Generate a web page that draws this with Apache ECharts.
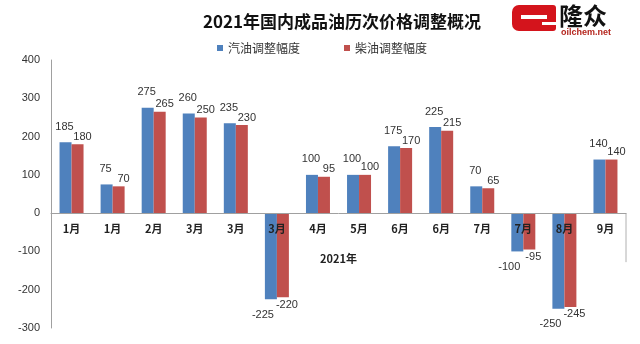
<!DOCTYPE html>
<html>
<head>
<meta charset="utf-8">
<script src="https://cdn.jsdelivr.net/npm/echarts@6/dist/echarts.min.js"></script>
<style>
  html, body { margin: 0; padding: 0; background: #ffffff; }
  #chart { width: 640px; height: 344px; }
</style>
</head>
<body>
<div id="chart"></div>
<script>
// Adjustment rounds of 2021 (month of each round)
const categories = ['1月', '1月', '2月', '3月', '3月', '3月', '4月', '5月', '6月', '6月', '7月', '7月', '8月', '9月'];
// Gasoline price change per round (元/吨)
const gasoline = [185, 75, 275, 260, 235, -225, 100, 100, 175, 225, 70, -100, -250, 140];
// Diesel price change per round (元/吨)
const diesel = [180, 70, 265, 250, 230, -220, 95, 100, 170, 215, 65, -95, -245, 140];
// Value axis ticks
const yTicks = { min: -300, max: 400, step: 100 };

const BLUE = '#4f81bd';
const RED = '#c0504d';
const FONT = '"Liberation Sans", Arial, "Noto Sans CJK SC", sans-serif';
const CJK = '"Noto Sans CJK SC", "Liberation Sans", sans-serif';

// Labels sit above positive bars and below negative ones
function withLabels(values, dist, dxPos, dxNeg) {
  return values.map(v => ({
    value: v,
    label: {
      position: v < 0 ? 'bottom' : 'top',
      distance: dist,
      offset: [v < 0 ? dxNeg : dxPos, 0]
    }
  }));
}

const W = 640, H = 344;
const grid = { left: 51, right: 14, top: 60, bottom: 16, containLabel: false, outerBoundsMode: 'none' };

// Category axis runs along the zero line: shift it up from the grid bottom
const plotH = H - grid.top - grid.bottom;
const zeroShift = plotH * (0 - yTicks.min) / (yTicks.max - yTicks.min);

const chart = echarts.init(document.getElementById('chart'), null, { renderer: 'canvas' });

chart.setOption({
  backgroundColor: '#ffffff',
  animation: false,
  title: {
    text: '2021年国内成品油历次价格调整概况',
    left: 198,
    top: 8,
    textStyle: { fontFamily: CJK, fontSize: 17, fontWeight: 'bold', color: '#111' }
  },
  legend: {
    left: 212,
    top: 37,
    itemWidth: 6,
    itemHeight: 6,
    itemGap: 44,
    icon: 'rect',
    textStyle: { fontFamily: CJK, fontSize: 12, color: '#333' },
    data: ['汽油调整幅度', '柴油调整幅度']
  },
  grid: grid,
  xAxis: {
    type: 'category',
    data: categories,
    position: 'bottom',
    offset: -zeroShift,
    z: 5,
    name: '2021年',
    nameLocation: 'middle',
    nameGap: 40,
    nameTextStyle: { fontFamily: CJK, fontSize: 11, fontWeight: 'bold', color: '#222' },
    axisLine: { onZero: false, lineStyle: { color: '#a0a0a0', width: 1 } },
    axisTick: { show: false },
    axisLabel: { fontFamily: CJK, fontSize: 11, fontWeight: 'bold', color: '#222', margin: 10, interval: 0 }
  },
  yAxis: {
    type: 'value',
    min: yTicks.min,
    max: yTicks.max,
    interval: yTicks.step,
    splitLine: { show: false },
    axisLine: { show: true, lineStyle: { color: '#a0a0a0', width: 1 } },
    axisTick: { show: false },
    axisLabel: { fontFamily: FONT, fontSize: 11, color: '#333', margin: 11 }
  },
  series: [
    {
      name: '汽油调整幅度',
      type: 'bar',
      barWidth: 12,
      barGap: '0%',
      itemStyle: { color: BLUE },
      label: { show: true, fontFamily: FONT, fontSize: 11, color: '#333' },
      data: withLabels(gasoline, 10, -1, -8)
    },
    {
      name: '柴油调整幅度',
      type: 'bar',
      barWidth: 12,
      barGap: '0%',
      itemStyle: { color: RED },
      label: { show: true, fontFamily: FONT, fontSize: 11, color: '#333' },
      data: withLabels(diesel, 2, 5, 4)
    }
  ]
});

// Plot-frame stub on the right below the zero line, and the brand logo
const y0 = chart.convertToPixel({ yAxisIndex: 0 }, 0);
const y1 = chart.convertToPixel({ yAxisIndex: 0 }, -128);
const xr = W - grid.right;

chart.setOption({
  graphic: [
    {
      type: 'line',
      shape: { x1: xr, y1: y0, x2: xr, y2: y1 },
      style: { stroke: '#b0b0b0', lineWidth: 1 }
    },
    {
      type: 'group',
      left: 512,
      top: 4,
      children: [
        { type: 'rect', shape: { x: 0, y: 0, width: 44, height: 26, r: [7, 3, 3, 7] }, style: { fill: '#d4141c' } },
        { type: 'rect', shape: { x: 9, y: 10, width: 26, height: 4 }, style: { fill: '#ffffff' } },
        { type: 'rect', shape: { x: 30, y: 17, width: 14, height: 3 }, style: { fill: '#ffffff' } },
        { type: 'text', x: 47, y: -1, style: { text: '隆众', fontFamily: CJK, fontSize: 24, fontWeight: 'bold', fill: '#111' } },
        { type: 'text', x: 49, y: 23, style: { text: 'oilchem.net', fontFamily: FONT, fontSize: 9, fontWeight: 'bold', fill: '#b5261e' } }
      ]
    }
  ]
});
</script>
</body>
</html>
